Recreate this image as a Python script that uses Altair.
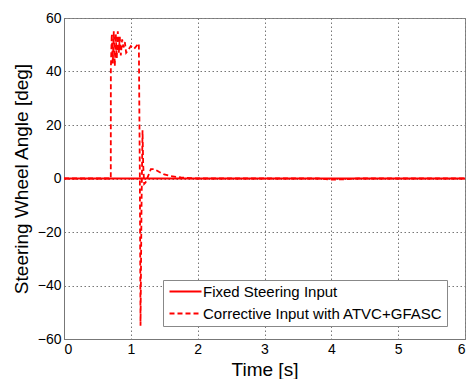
import altair as alt
import pandas as pd

# Fixed steering input (constant zero)
fixed_time = [0.0, 6.0]
fixed_angle = [0.0, 0.0]

# Corrective input with ATVC+GFASC
corr_time = [0, 0.70, 0.701, 0.715, 0.73, 0.745, 0.76, 0.775, 0.79, 0.805, 0.82,
             0.835, 0.85, 0.87, 0.89, 0.91, 0.93, 0.96, 1.0, 1.05, 1.1, 1.12,
             1.135, 1.145, 1.16, 1.175, 1.185, 1.2, 1.22, 1.26, 1.3, 1.35, 1.42,
             1.5, 1.6, 1.75, 1.9, 2.0, 3.8, 4.0, 4.2, 4.4, 6.0]
corr_angle = [0, 0, 41, 54, 43, 55, 42, 54, 45, 55, 47,
              53, 46, 52, 49, 51, 47, 48, 49.5, 48.5, 50, 50.5,
              0, -55, -10, 18, 5, -2, -1.5, 1, 3.5, 3.5, 2.5,
              1.5, 0.9, 0.4, 0.1, 0, 0, -0.4, -0.3, 0, 0]

series_names = ["Fixed Steering Input", "Corrective Input with ATVC+GFASC"]
x_ticks = [0, 1, 2, 3, 4, 5, 6]
y_ticks = [-60, -40, -20, 0, 20, 40, 60]

rows = []
for i, (t, v) in enumerate(zip(fixed_time, fixed_angle)):
    rows.append({"series": series_names[0], "t": t, "v": v, "o": i})
for i, (t, v) in enumerate(zip(corr_time, corr_angle)):
    rows.append({"series": series_names[1], "t": t, "v": v, "o": i})
df = pd.DataFrame(rows)

FONT = "Liberation Sans"


def make_legend():
    return alt.Legend(title=None, orient="none", legendX=99, legendY=262,
                      symbolType="M-3.2,0H3.2", symbolSize=100,
                      symbolStrokeWidth=1.8, symbolOffset=11,
                      labelOffset=10, labelFontSize=15, labelFont=FONT,
                      labelLimit=400, labelColor="#000", rowPadding=6, padding=4,
                      strokeColor="#888", fillColor="white")


chart = alt.Chart(df).mark_line(strokeWidth=1.8, clip=True).encode(
    x=alt.X("t:Q", scale=alt.Scale(domain=[0, 6], nice=False),
            axis=alt.Axis(values=x_ticks, title="Time [s]", format="d")),
    y=alt.Y("v:Q", scale=alt.Scale(domain=[-60, 60], nice=False),
            axis=alt.Axis(values=y_ticks, title="Steering Wheel Angle [deg]", format="d")),
    color=alt.Color("series:N",
                    scale=alt.Scale(domain=series_names, range=["#ff0000", "#ff0000"]),
                    legend=make_legend()),
    strokeDash=alt.StrokeDash("series:N",
                              scale=alt.Scale(domain=series_names, range=[[1, 0], [5, 3]]),
                              legend=make_legend()),
    order="o:Q",
).properties(
    width=401, height=321,
    autosize=alt.AutoSizeParams(type="none"),
    padding={"left": 64, "top": 18, "right": 1, "bottom": 40},
).configure_view(
    stroke="#888", strokeWidth=1,
).configure_axis(
    grid=True, gridColor="#777", gridDash=[1.5, 2.5], gridWidth=1, gridOpacity=1,
    domainColor="#777", tickSize=0, labelFont=FONT, labelFontSize=14, labelColor="#000",
    titleFont=FONT, titleFontSize=19, titleFontWeight="normal", titleColor="#000",
    labelPadding=3,
).configure_axisY(
    titlePadding=6,
).configure_axisX(
    titlePadding=4,
)

chart.save("out.html", embed_options={"renderer": "svg", "actions": False})
